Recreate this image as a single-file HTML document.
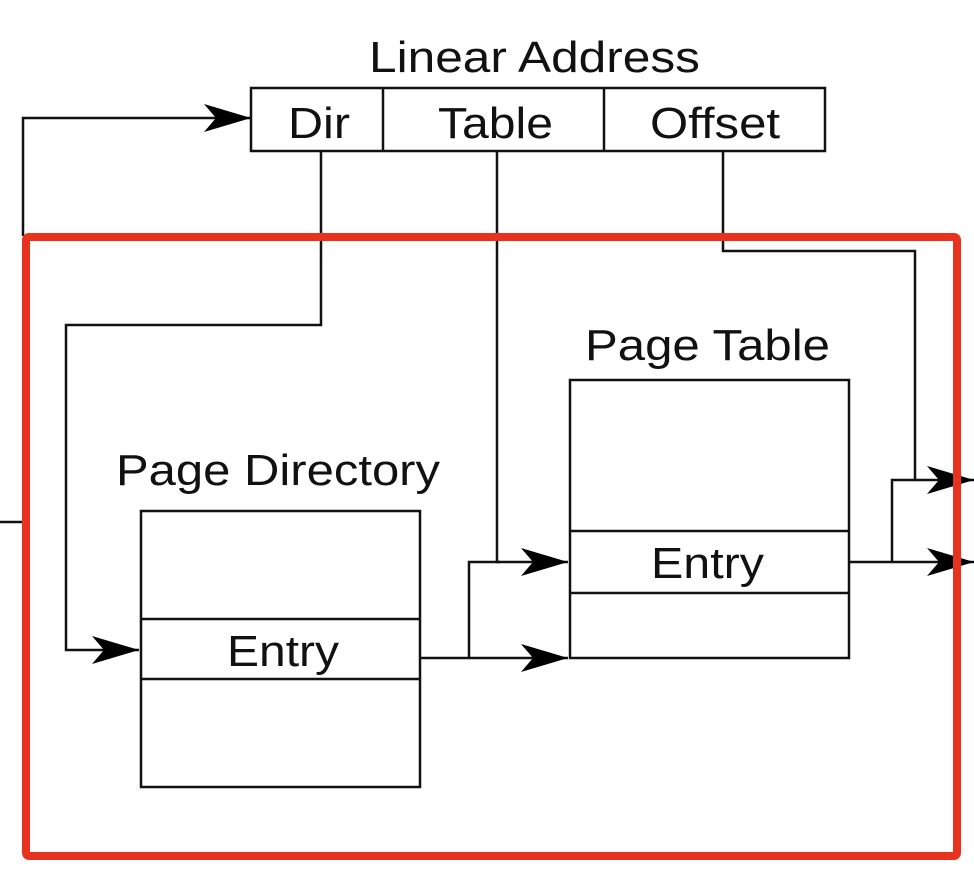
<!DOCTYPE html>
<html><head><style>body{margin:0;background:#fff}svg{display:block}</style></head><body>
<svg width="974" height="878" viewBox="0 0 974 878" xmlns="http://www.w3.org/2000/svg">
<defs>
<marker id="a" markerWidth="48" markerHeight="34" refX="47" refY="17" orient="auto" markerUnits="userSpaceOnUse">
<path d="M0,3 L47,17 L0,31 L12,17 Z" fill="#000"/>
</marker>
</defs>
<g font-family="Liberation Sans, sans-serif" fill="#111" font-size="44" lengthAdjust="spacingAndGlyphs">
<text x="369" y="72" textLength="331" lengthAdjust="spacingAndGlyphs">Linear Address</text>
<text x="288" y="138" textLength="62" lengthAdjust="spacingAndGlyphs">Dir</text>
<text x="438" y="138" textLength="115" lengthAdjust="spacingAndGlyphs">Table</text>
<text x="650" y="138" textLength="130" lengthAdjust="spacingAndGlyphs">Offset</text>
<text x="585" y="360" textLength="245" lengthAdjust="spacingAndGlyphs">Page Table</text>
<text x="116" y="485" textLength="324" lengthAdjust="spacingAndGlyphs">Page Directory</text>
<text x="651" y="578" textLength="113" lengthAdjust="spacingAndGlyphs">Entry</text>
<text x="227" y="666" textLength="112" lengthAdjust="spacingAndGlyphs">Entry</text>
</g>
<g stroke="#111" stroke-width="2.5" fill="none">
<rect x="251" y="88" width="574" height="63"/>
<line x1="383" y1="88" x2="383" y2="151"/>
<line x1="604" y1="88" x2="604" y2="151"/>
<rect x="570" y="380" width="279" height="278"/>
<line x1="570" y1="531" x2="849" y2="531"/>
<line x1="570" y1="593" x2="849" y2="593"/>
<rect x="141" y="511" width="279" height="276"/>
<line x1="141" y1="619" x2="420" y2="619"/>
<line x1="141" y1="679" x2="420" y2="679"/>
<polyline points="23,236 23,118 251,118" marker-end="url(#a)"/>
<line x1="0" y1="522" x2="22" y2="522"/>
<polyline points="321,151 321,325 66,325 66,650 139,650" marker-end="url(#a)"/>
<polyline points="497,151 497,562 568,562" marker-end="url(#a)"/>
<polyline points="469,658 469,562 500,562"/>
<polyline points="420,658 568,658" marker-end="url(#a)"/>
<polyline points="723,151 723,251 915,251 915,480 974,480" marker-end="url(#a)"/>
<polyline points="892,562 892,480 915,480"/>
<polyline points="849,562 974,562" marker-end="url(#a)"/>
</g>
<rect x="26" y="237" width="931" height="619" rx="3" fill="none" stroke="#e8321e" stroke-width="8"/>
</svg>
</body></html>
